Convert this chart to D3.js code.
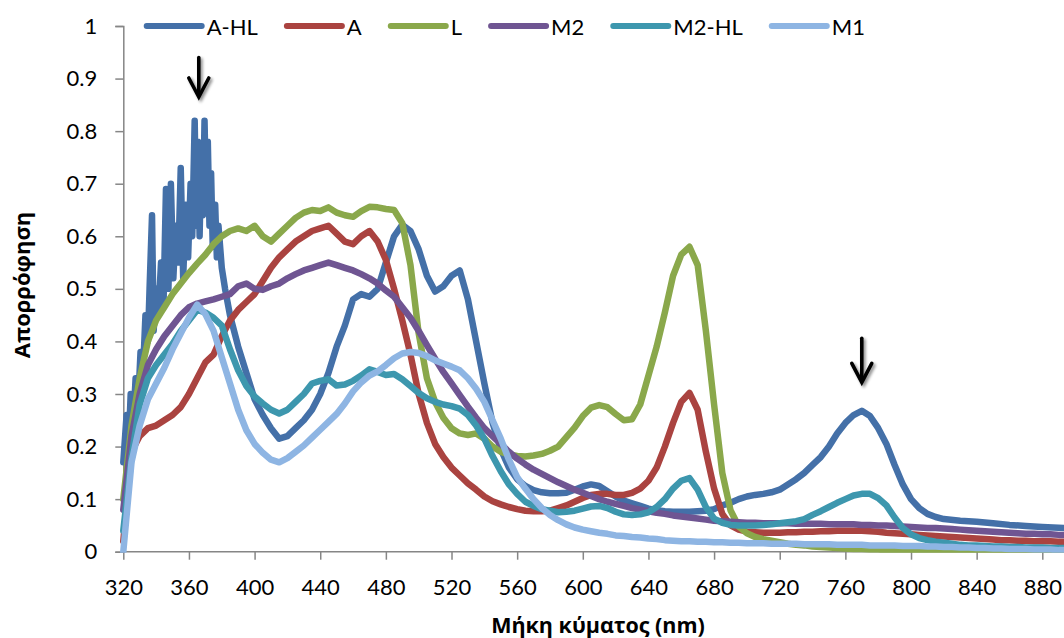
<!DOCTYPE html>
<html><head><meta charset="utf-8">
<script src="https://cdn.jsdelivr.net/npm/d3@7"></script>
<style>body{margin:0;background:#fff}svg{display:block}</style>
</head><body>
<svg id="chart" width="1064" height="638"></svg>
<script>
// ---------- DATA ----------
const xTicks = [320,360,400,440,480,520,560,600,640,680,720,760,800,840,880];
const yTicks = [0,0.1,0.2,0.3,0.4,0.5,0.6,0.7,0.8,0.9,1];
const seriesNames = ["A-HL","A","L","M2","M2-HL","M1"];

// shared wavelength grid (nm)
const wavelengths = [
 320,325,330,335,340,345,350,355,360,365,
 370,375,380,385,390,395,400,405,410,415,
 420,425,430,435,440,445,450,455,460,465,
 470,475,480,485,490,495,500,505,510,515,
 520,525,530,535,540,545,550,555,560,565,
 570,575,580,585,590,595,600,605,610,615,
 620,625,630,635,640,645,650,655,660,665,
 670,675,680,685,690,695,700,705,710,715,
 720,725,730,735,740,745,750,755,760,765,
 770,775,780,785,790,795,800,805,810,815,
 820,825,830,835,840,845,850,855,860,865,
 870,875,880,885,890,895];

// A-HL has its own (denser at the noisy UV end) wavelength list
const wavelengthsAHL = [
 320,322,323,324.5,326,327.5,329,330.5,332,333.5,335,336,337.5,338.5,340,341.5,343,344.5,346,347.5,
 349,350.5,352,353.5,355,356.5,358,359.5,361,362,363.5,364.5,365.5,366.5,367.5,368.5,369.5,370.5,371.5,372.5,
 373.5,374.5,376,377,378,380,382,385,390,395,400,405,410,
 415,420,425,430,435,440,445,450,455,460,465,470,475,480,485,490,495,500,505,510,
 515,520,525,530,535,540,545,550,555,560,565,570,575,580,585,590,595,600,605,610,
 615,620,625,630,635,640,645,650,655,660,665,670,675,680,685,690,695,700,705,710,
 715,720,725,730,735,740,745,750,755,760,765,770,775,780,785,790,795,800,805,810,
 815,820,830,840,850,860,870,880,895];
const valuesAHL = [
 0.17,0.26,0.18,0.30,0.24,0.33,0.28,0.38,0.34,0.45,0.40,0.50,0.64,0.42,0.50,0.46,0.55,0.47,0.69,0.50,
 0.70,0.52,0.62,0.55,0.73,0.52,0.66,0.56,0.70,0.60,0.82,0.62,0.78,0.60,0.75,0.64,0.82,0.66,0.78,0.62,
 0.72,0.58,0.66,0.56,0.62,0.54,0.50,0.45,0.39,0.34,0.29,0.26,0.235,
 0.215,0.22,0.235,0.25,0.27,0.30,0.34,0.39,0.43,0.48,0.49,0.485,0.50,0.55,0.60,0.622,0.61,0.575,0.525,0.495,
 0.505,0.525,0.535,0.48,0.40,0.32,0.245,0.195,0.16,0.138,0.125,0.117,0.113,0.111,0.111,0.112,0.118,0.124,0.128,0.125,
 0.115,0.105,0.097,0.092,0.087,0.082,0.079,0.077,0.076,0.076,0.076,0.077,0.078,0.081,0.088,0.093,0.10,0.105,0.108,0.11,
 0.113,0.118,0.128,0.138,0.15,0.165,0.18,0.20,0.225,0.245,0.26,0.268,0.258,0.235,0.205,0.165,0.128,0.10,0.083,0.072,
 0.066,0.062,0.059,0.057,0.054,0.051,0.049,0.047,0.045];

const valuesA = [
 0.02,0.19,0.22,0.235,0.24,0.25,0.26,0.275,0.30,0.33,
 0.36,0.375,0.41,0.44,0.46,0.475,0.49,0.515,0.54,0.56,
 0.575,0.59,0.60,0.61,0.615,0.62,0.605,0.59,0.585,0.60,
 0.61,0.59,0.555,0.50,0.44,0.375,0.30,0.245,0.205,0.18,
 0.16,0.145,0.13,0.118,0.105,0.096,0.09,0.085,0.081,0.078,
 0.077,0.077,0.078,0.083,0.088,0.095,0.102,0.108,0.11,0.11,
 0.108,0.108,0.112,0.12,0.135,0.16,0.20,0.245,0.285,0.302,
 0.27,0.19,0.12,0.072,0.05,0.042,0.038,0.037,0.036,0.036,
 0.036,0.037,0.037,0.038,0.038,0.039,0.039,0.04,0.04,0.04,
 0.04,0.039,0.038,0.036,0.035,0.034,0.033,0.032,0.031,0.03,
 0.029,0.028,0.027,0.026,0.025,0.024,0.023,0.022,0.022,0.021,
 0.021,0.02,0.02,0.02,0.019,0.019];

const valuesL = [
 0.10,0.24,0.33,0.40,0.44,0.465,0.49,0.51,0.53,0.548,
 0.565,0.585,0.60,0.61,0.615,0.61,0.62,0.60,0.59,0.605,
 0.62,0.635,0.645,0.65,0.648,0.655,0.645,0.64,0.637,0.648,
 0.656,0.655,0.652,0.65,0.625,0.545,0.415,0.33,0.285,0.255,
 0.235,0.225,0.222,0.225,0.215,0.20,0.19,0.185,0.182,0.181,
 0.183,0.186,0.192,0.20,0.218,0.236,0.258,0.274,0.279,0.275,
 0.262,0.25,0.252,0.28,0.335,0.39,0.455,0.525,0.565,0.58,
 0.545,0.42,0.28,0.15,0.079,0.048,0.035,0.028,0.024,0.021,
 0.018,0.015,0.013,0.012,0.01,0.009,0.008,0.007,0.006,0.005,
 0.005,0.004,0.004,0.003,0.003,0.002,0.002,0.002,0.001,0.001,
 0.001,0.001,0,0,0,0,0,0,0,0,
 0,0,0,0,0,0];

const valuesM2 = [
 0.08,0.22,0.30,0.355,0.385,0.41,0.43,0.45,0.465,0.472,
 0.476,0.48,0.485,0.49,0.505,0.51,0.50,0.498,0.505,0.51,
 0.52,0.528,0.535,0.54,0.545,0.55,0.545,0.54,0.535,0.528,
 0.52,0.51,0.497,0.485,0.465,0.445,0.42,0.393,0.367,0.342,
 0.32,0.298,0.276,0.255,0.235,0.22,0.205,0.19,0.177,0.166,
 0.156,0.148,0.14,0.132,0.125,0.118,0.112,0.106,0.10,0.095,
 0.091,0.087,0.083,0.08,0.077,0.074,0.072,0.069,0.067,0.065,
 0.063,0.061,0.059,0.058,0.057,0.056,0.055,0.055,0.054,0.054,
 0.054,0.054,0.053,0.053,0.053,0.053,0.052,0.052,0.052,0.052,
 0.051,0.051,0.05,0.05,0.049,0.048,0.047,0.046,0.045,0.045,
 0.044,0.043,0.042,0.041,0.04,0.039,0.038,0.037,0.036,0.035,
 0.034,0.034,0.033,0.033,0.032,0.032];

const valuesM2HL = [
 0.04,0.18,0.28,0.33,0.355,0.375,0.395,0.42,0.44,0.46,
 0.455,0.445,0.43,0.385,0.345,0.315,0.295,0.282,0.27,0.263,
 0.27,0.285,0.30,0.32,0.325,0.328,0.316,0.318,0.325,0.335,
 0.347,0.342,0.336,0.338,0.328,0.315,0.302,0.292,0.285,0.28,
 0.277,0.272,0.26,0.24,0.215,0.182,0.153,0.128,0.11,0.095,
 0.087,0.081,0.078,0.075,0.076,0.078,0.082,0.086,0.087,0.083,
 0.076,0.071,0.07,0.071,0.075,0.085,0.10,0.12,0.135,0.14,
 0.118,0.085,0.063,0.055,0.051,0.05,0.05,0.05,0.051,0.052,
 0.054,0.056,0.058,0.062,0.07,0.077,0.085,0.093,0.10,0.107,
 0.11,0.11,0.102,0.088,0.065,0.045,0.033,0.026,0.022,0.019,
 0.017,0.015,0.013,0.012,0.012,0.011,0.01,0.01,0.009,0.009,
 0.008,0.008,0.008,0.007,0.007,0.007];

const valuesM1 = [
 0.0,0.17,0.24,0.29,0.32,0.35,0.385,0.415,0.445,0.47,
 0.452,0.42,0.37,0.32,0.27,0.231,0.205,0.188,0.175,0.17,
 0.178,0.19,0.202,0.217,0.232,0.247,0.262,0.282,0.305,0.322,
 0.335,0.343,0.355,0.368,0.377,0.38,0.378,0.372,0.364,0.358,
 0.352,0.345,0.33,0.31,0.285,0.25,0.215,0.175,0.142,0.12,
 0.10,0.083,0.07,0.06,0.052,0.046,0.042,0.039,0.036,0.034,
 0.031,0.03,0.028,0.027,0.025,0.024,0.022,0.021,0.02,0.02,
 0.019,0.019,0.018,0.018,0.017,0.017,0.016,0.016,0.016,0.015,
 0.015,0.015,0.015,0.014,0.014,0.014,0.014,0.013,0.013,0.013,
 0.013,0.012,0.012,0.012,0.012,0.011,0.011,0.011,0.01,0.01,
 0.009,0.009,0.008,0.008,0.007,0.007,0.006,0.006,0.005,0.005,
 0.005,0.004,0.004,0.004,0.003,0.003];

const seriesColors = ["#4470A8","#AA4340","#8AA84B","#6F5592","#3D97AE","#8EB5E3"];

// arrow annotations: wavelength, value at top of shaft, value at tip
const arrowNm = [366, 770];
const arrowTop = [0.94, 0.406];
const arrowTip = [0.865, 0.322];

// ---------- CHART ----------
const plotLeft = 123.3, plotRight = 1064, plotTop = 26, plotBottom = 551.7;
const pxPerNm = (1042.3 - 123.3) / 560;
const xMax = 320 + (plotRight - plotLeft) / pxPerNm;

const svg = d3.select("#chart");
const x = d3.scaleLinear().domain([320, xMax]).range([plotLeft, plotRight]);
const y = d3.scaleLinear().domain([0, 1]).range([plotBottom, plotTop]);

const tickFont = "Lato, 'Open Sans', sans-serif";
const axisColor = "#868686";

const defs = svg.append("defs");
defs.append("clipPath").attr("id","clip")
  .append("rect").attr("x", plotLeft - 4).attr("y", 0).attr("width", plotRight - plotLeft + 4).attr("height", plotBottom + 1);

const shadow = defs.append("filter").attr("id","shadow")
  .attr("x","-50%").attr("y","-50%").attr("width","200%").attr("height","200%");
shadow.append("feGaussianBlur").attr("in","SourceAlpha").attr("stdDeviation",1.6).attr("result","b");
shadow.append("feOffset").attr("in","b").attr("dx",1.5).attr("dy",1.5).attr("result","o");
shadow.append("feComponentTransfer").attr("in","o").attr("result","s")
  .append("feFuncA").attr("type","linear").attr("slope",0.45);
const fm = shadow.append("feMerge");
fm.append("feMergeNode").attr("in","s");
fm.append("feMergeNode").attr("in","SourceGraphic");

// series
const seriesX = [wavelengthsAHL, wavelengths, wavelengths, wavelengths, wavelengths, wavelengths];
const seriesV = [valuesAHL, valuesA, valuesL, valuesM2, valuesM2HL, valuesM1];
const series = seriesNames.map((name, i) => ({name, color: seriesColors[i], xs: seriesX[i], vs: seriesV[i]}));

const line = d3.line().x(d => x(d[0])).y(d => y(d[1]));

// axes
const xAxis = d3.axisBottom(x).tickValues(xTicks).tickSize(8).tickPadding(20).tickFormat(d3.format("d"));
const gx = svg.append("g").attr("transform", `translate(0,${plotBottom})`).call(xAxis);
gx.select(".domain").attr("d", `M${plotLeft},0H${plotRight}`);
const yAxis = d3.axisLeft(y).tickValues(yTicks).tickSize(8).tickPadding(18)
  .tickFormat(d => d === 0 || d === 1 ? String(d) : d3.format(".1f")(d));
const gy = svg.append("g").attr("transform", `translate(${plotLeft},0)`).call(yAxis);

[gx, gy].forEach(g => {
  g.select(".domain").attr("stroke", axisColor).attr("stroke-width", 1.5);
  g.selectAll(".tick line").attr("stroke", axisColor).attr("stroke-width", 1.5);
  g.selectAll(".tick text").attr("font-family", tickFont).attr("font-size", 22).attr("fill", "#000");
});

const plot = svg.append("g").attr("clip-path", "url(#clip)");
plot.selectAll("path.series").data(series).enter().append("path")
  .attr("class","series")
  .attr("d", s => line(s.xs.map((v, i) => [v, s.vs[i]])))
  .attr("fill","none").attr("stroke", s => s.color)
  .attr("stroke-width", 6.5).attr("stroke-linejoin","round").attr("stroke-linecap","round");

// arrows
arrowNm.forEach((nm, i) => {
  const ax = x(nm), y0 = y(arrowTop[i]), y1 = y(arrowTip[i]);
  const g = svg.append("g").attr("filter","url(#shadow)")
    .attr("stroke","#000").attr("stroke-width",3.6).attr("fill","none")
    .attr("stroke-linecap","round").attr("stroke-linejoin","miter");
  g.append("line").attr("x1",ax).attr("x2",ax).attr("y1",y0).attr("y2",y1-2);
  g.append("path").attr("d", `M${ax-10},${y1-19}L${ax},${y1}L${ax+10},${y1-19}`);
});

// legend
const legend = svg.append("g");
let lx = 146.7;
series.forEach(s => {
  legend.append("line").attr("x1", lx).attr("x2", lx + 55).attr("y1", 26).attr("y2", 26)
    .attr("stroke", s.color).attr("stroke-width", 6).attr("stroke-linecap","round");
  const t = legend.append("text").attr("x", lx + 60).attr("y", 35)
    .attr("font-family", tickFont).attr("font-size", 22).attr("fill","#000").text(s.name);
  lx += 60 + t.node().getComputedTextLength() + 29;
});

// axis titles
svg.append("text").attr("x", 598).attr("y", 633).attr("text-anchor","middle")
  .attr("font-family","'Open Sans', 'Noto Sans', sans-serif").attr("font-weight","bold").attr("font-size",21.5)
  .text("Μήκη κύματος (nm)");
svg.append("text").attr("transform","translate(30,285) rotate(-90)").attr("text-anchor","middle")
  .attr("font-family","'Open Sans', 'Noto Sans', sans-serif").attr("font-weight","bold").attr("font-size",22)
  .text("Απορρόφηση");
</script>
</body></html>
